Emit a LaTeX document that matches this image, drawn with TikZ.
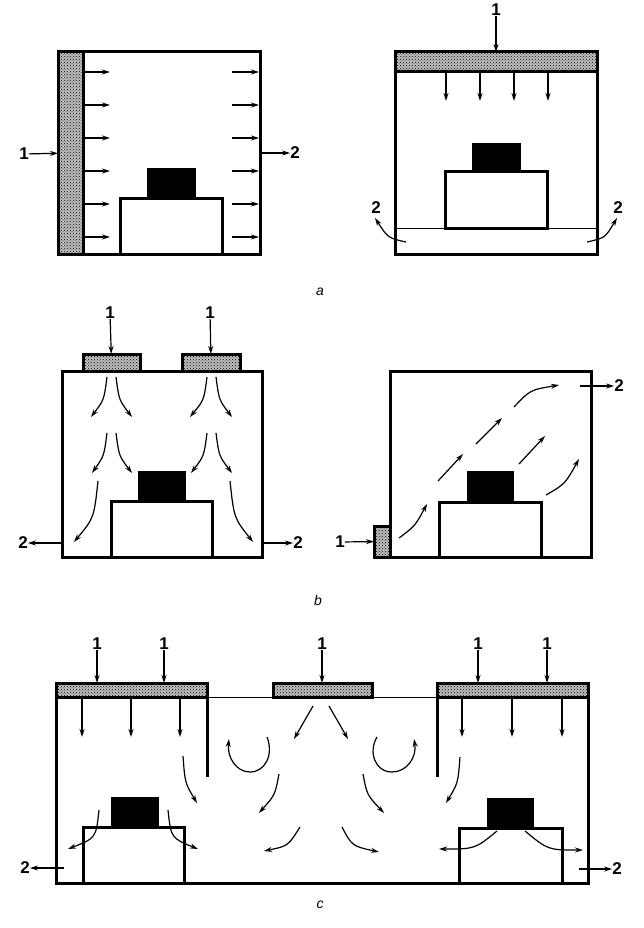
\documentclass[tikz,border=0pt]{standalone}
\usepackage{fontspec}
\setmainfont{Liberation Sans}
\usetikzlibrary{arrows.meta, positioning, patterns}
\tikzset{
    % Walls, panels and the equipment on the floor
    room box/.style={
        rectangle,
        draw=black,
        line width=3pt,
        inner sep=0pt,
        outer sep=0pt
    },
    heater box/.style={
        room box,
        preaction={fill=black!25},
        pattern=crosshatch dots,
        pattern color=black
    },
    machine box/.style={
        room box,
        fill=white
    },
    block box/.style={
        rectangle,
        draw=black,
        fill=black,
        line width=0.5pt,
        inner sep=0pt
    },
    wall line/.style={
        line width=3pt,
        black
    },
    thin line/.style={
        line width=1pt,
        black
    },
    flow arrow/.style={
        -{Stealth[length=8pt,width=5pt]},
        line width=1.2pt,
        black
    },
    number label/.style={
        inner sep=0pt,
        font=\fontsize{17}{17}\selectfont\bfseries
    },
    panel label/.style={
        inner sep=0pt,
        font=\fontsize{14}{14}\selectfont\itshape
    }
}
\begin{document}
\begin{tikzpicture}[x=1pt, y=-1pt]
    \useasboundingbox (0,0) rectangle (644,928);

    % Panel a, left
    \node[room box, minimum width=202pt, minimum height=202pt] (roomA) at (159,153) {};
    \node[heater box, minimum width=25pt, minimum height=202pt] (heaterA) at (70.5,153) {};
    \node[machine box, minimum width=102pt, minimum height=56pt] (machineA) at (171,226) {};
    \node[block box, minimum width=48pt, minimum height=30pt] (blockA) at (171,183) {};
    \node[number label] (oneA) at (24,154) {1};
    \node[number label] (twoA) at (295,153) {2};
    \draw[flow arrow] (oneA) -- (heaterA);
    \draw[flow arrow] (roomA) -- (twoA);
    \draw[flow arrow] (83,72) -- (110,72);
    \draw[flow arrow] (83,105) -- (110,105);
    \draw[flow arrow] (83,138) -- (110,138);
    \draw[flow arrow] (83,171) -- (110,171);
    \draw[flow arrow] (83,204) -- (110,204);
    \draw[flow arrow] (83,237) -- (110,237);
    \draw[flow arrow] (232,72) -- (259,72);
    \draw[flow arrow] (232,105) -- (259,105);
    \draw[flow arrow] (232,138) -- (259,138);
    \draw[flow arrow] (232,171) -- (259,171);
    \draw[flow arrow] (232,204) -- (259,204);
    \draw[flow arrow] (232,237) -- (259,237);

    % Panel a, right
    \node[room box, minimum width=202pt, minimum height=202pt] (roomB) at (496,153) {};
    \node[heater box, minimum width=202pt, minimum height=20pt] (heaterB) at (496,62) {};
    \node[machine box, minimum width=102pt, minimum height=56pt] (machineB) at (496,200) {};
    \node[block box, minimum width=48pt, minimum height=29pt] (blockB) at (496,157.5) {};
    \draw[thin line] (roomB.west |- machineB.south) -- (roomB.east |- machineB.south);
    \node[number label] (oneB) at (496,10) {1};
    \node[number label] (twoBL) at (376,208) {2};
    \node[number label] (twoBR) at (618,208) {2};
    \draw[flow arrow] (oneB) -- (heaterB);
    \draw[flow arrow] (446,73) -- (446,101);
    \draw[flow arrow] (480,73) -- (480,101);
    \draw[flow arrow] (514,73) -- (514,101);
    \draw[flow arrow] (548,73) -- (548,101);
    \draw[flow arrow] (406,242) .. controls (388,238) .. (375,218);
    \draw[flow arrow] (587,242) .. controls (605,238) .. (617,218);

    % Label a
    \node[panel label] (labelA) at (320,292) {a};

    % Panel b, left
    \node[room box, minimum width=200pt, minimum height=186pt] (roomC) at (162,464) {};
    \node[heater box, minimum width=57pt, minimum height=17pt] (heaterC) at (111.5,362.5) {};
    \node[heater box, minimum width=58pt, minimum height=17pt] (heaterD) at (211,362.5) {};
    \node[machine box, minimum width=101pt, minimum height=56pt] (machineC) at (161.5,529) {};
    \node[block box, minimum width=47pt, minimum height=30pt] (blockC) at (161.5,486) {};
    \node[number label] (oneC) at (110,313) {1};
    \node[number label] (oneD) at (210,313) {1};
    \node[number label] (twoCL) at (23,543) {2};
    \node[number label] (twoCR) at (298,543) {2};
    \draw[flow arrow] (oneC) -- (heaterC);
    \draw[flow arrow] (oneD) -- (heaterD);
    \draw[flow arrow] (twoCL -| roomC.west) -- (twoCL);
    \draw[flow arrow] (twoCR -| roomC.east) -- (twoCR);
    \draw[flow arrow] (107,377) .. controls (104,400) .. (91,417);
    \draw[flow arrow] (116,377) .. controls (119,400) .. (132,417);
    \draw[flow arrow] (107,433) .. controls (104,456) .. (92,473);
    \draw[flow arrow] (116,433) .. controls (119,456) .. (132,473);
    \draw[flow arrow] (98,481) .. controls (94,518) .. (74,542);
    \draw[flow arrow] (207,377) .. controls (204,400) .. (190,417);
    \draw[flow arrow] (216,377) .. controls (219,400) .. (232,417);
    \draw[flow arrow] (207,433) .. controls (204,456) .. (191,473);
    \draw[flow arrow] (216,433) .. controls (219,456) .. (232,473);
    \draw[flow arrow] (230,481) .. controls (234,518) .. (253,542);

    % Panel b, right
    \node[room box, minimum width=201pt, minimum height=186pt] (roomD) at (490.5,464) {};
    \node[heater box, minimum width=16pt, minimum height=31pt] (heaterE) at (382,541.5) {};
    \node[machine box, minimum width=102pt, minimum height=55pt] (machineD) at (490,529.5) {};
    \node[block box, minimum width=46pt, minimum height=31pt] (blockD) at (490,486.5) {};
    \node[number label] (oneE) at (340,542) {1};
    \node[number label] (twoD) at (619,386) {2};
    \coordinate (outD) at (580,386);
    \draw[flow arrow] (oneE) -- (heaterE);
    \draw[flow arrow] (outD) -- (twoD);
    \draw[flow arrow] (399,538) .. controls (415,526) .. (427,504);
    \draw[flow arrow] (438,481) -- (463,454);
    \draw[flow arrow] (476,444) -- (502,418);
    \draw[flow arrow] (514,407) .. controls (530,390) .. (559,385);
    \draw[flow arrow] (519,464) -- (545,436);
    \draw[flow arrow] (546,495) .. controls (565,484) .. (579,459);

    % Label b
    \node[panel label] (labelB) at (318,600) {b};

    % Panel c, walls
    \node[minimum width=532pt, minimum height=186pt, inner sep=0pt, outer sep=0pt] (roomE) at (322,790) {};
    \draw[thin line] (roomE.north west) -- (roomE.north east);
    \draw[wall line] (roomE.north west) -- (roomE.south west) -- (roomE.south east) -- (roomE.north east);
    \node[heater box, minimum width=151pt, minimum height=14pt] (heaterF) at (131.5,690) {};
    \node[heater box, minimum width=99pt, minimum height=14pt] (heaterG) at (322.5,690) {};
    \node[heater box, minimum width=151pt, minimum height=14pt] (heaterH) at (512.5,690) {};
    \coordinate (baffleF) at (207,777);
    \coordinate (baffleH) at (437,777);
    \draw[wall line] (heaterF.south east) -- (baffleF);
    \draw[wall line] (heaterH.south west) -- (baffleH);

    % Panel c, equipment
    \node[machine box, minimum width=101pt, minimum height=56pt] (machineE) at (133.5,855) {};
    \node[block box, minimum width=47pt, minimum height=30pt] (blockE) at (134.5,812) {};
    \node[machine box, minimum width=103pt, minimum height=55pt] (machineF) at (510.5,855.5) {};
    \node[block box, minimum width=46pt, minimum height=30pt] (blockF) at (510,813) {};

    % Panel c, inlets and outlets
    \node[number label] (oneF) at (97,644) {1};
    \node[number label] (oneG) at (164,644) {1};
    \node[number label] (oneH) at (322,644) {1};
    \node[number label] (oneI) at (478,644) {1};
    \node[number label] (oneJ) at (547,644) {1};
    \node[number label] (twoEL) at (25,868) {2};
    \node[number label] (twoER) at (617,869) {2};
    \coordinate (outEL) at (64,868);
    \coordinate (outER) at (579,869);
    \draw[flow arrow] (oneF) -- (oneF |- heaterF.north);
    \draw[flow arrow] (oneG) -- (oneG |- heaterF.north);
    \draw[flow arrow] (oneH) -- (oneH |- heaterG.north);
    \draw[flow arrow] (oneI) -- (oneI |- heaterH.north);
    \draw[flow arrow] (oneJ) -- (oneJ |- heaterH.north);
    \draw[flow arrow] (outEL) -- (twoEL);
    \draw[flow arrow] (outER) -- (twoER);

    % Panel c, air flow
    \draw[flow arrow] (82,698) -- (82,737);
    \draw[flow arrow] (131,698) -- (131,737);
    \draw[flow arrow] (180,698) -- (180,737);
    \draw[flow arrow] (462,698) -- (462,737);
    \draw[flow arrow] (512,698) -- (512,737);
    \draw[flow arrow] (562,698) -- (562,737);
    \draw[flow arrow] (183,756) .. controls (185,783) .. (197,803);
    \draw[flow arrow] (99,810) .. controls (96,838) .. (68,849);
    \draw[flow arrow] (168,810) .. controls (171,838) .. (198,849);
    \draw[flow arrow] (313,706) -- (294,739);
    \draw[flow arrow] (329,706) -- (348,739);
    \draw[flow arrow] (267,737) .. controls (274,755) and (265,772) .. (250,772) .. controls (236,772) and (227,757) .. (229,739);
    \draw[flow arrow] (377,737) .. controls (368,752) and (375,772) .. (392,772) .. controls (407,772) and (417,757) .. (414,739);
    \draw[flow arrow] (279,774) .. controls (275,795) .. (259,813);
    \draw[flow arrow] (300,827) .. controls (288,846) .. (264,851);
    \draw[flow arrow] (363,774) .. controls (367,795) .. (384,813);
    \draw[flow arrow] (342,827) .. controls (352,846) .. (379,852);
    \draw[flow arrow] (460,757) .. controls (458,783) .. (446,803);
    \draw[flow arrow] (497,831) .. controls (475,849) .. (439,849);
    \draw[flow arrow] (525,831) .. controls (548,850) .. (583,850);

    % Label c
    \node[panel label] (labelC) at (320,905) {c};
\end{tikzpicture}
\end{document}
